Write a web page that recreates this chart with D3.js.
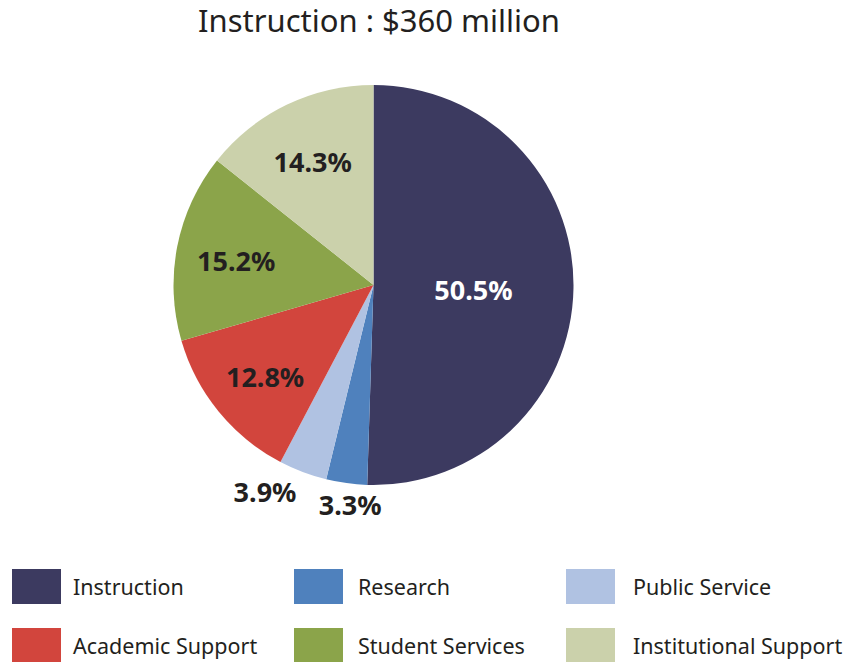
<!DOCTYPE html>
<html>
<head>
<meta charset="utf-8">
<script src="https://cdn.jsdelivr.net/npm/d3@7"></script>
<style>
  html, body { margin: 0; padding: 0; background: #ffffff; }
  svg { display: block; }
</style>
</head>
<body>
<svg id="chart" width="849" height="662"></svg>
<script>
// Spending breakdown for the Instruction budget
const chartTitle = "Instruction : $360 million";
const categories = ["Instruction", "Research", "Public Service", "Academic Support", "Student Services", "Institutional Support"];
const shares = [50.5, 3.3, 3.9, 12.8, 15.2, 14.3];
const colors = ["#3c3a60", "#4f81bd", "#b0c2e2", "#d2453d", "#8ba44a", "#cbd1ab"];
const legendColumns = [[0, 3], [1, 4], [2, 5]];

const W = 849, H = 662;
const cx = 373.5, cy = 285, R = 200;
const textColor = "#231f20";
const fontStack = "'Noto Sans', 'Open Sans', sans-serif";

const svg = d3.select("#chart");

// Title
svg.append("text")
  .attr("x", 379)
  .attr("y", 32)
  .attr("text-anchor", "middle")
  .attr("font-family", fontStack)
  .attr("font-size", 31)
  .attr("fill", textColor)
  .text(chartTitle);

const data = categories.map((c, i) => ({ name: c, value: shares[i], color: colors[i] }));

const pie = d3.pie().sort(null).value(d => d.value).startAngle(0).endAngle(2 * Math.PI);
const arcs = pie(data);
const arc = d3.arc().innerRadius(0).outerRadius(R);

const g = svg.append("g").attr("transform", `translate(${cx},${cy})`);

g.selectAll("path.slice")
  .data(arcs)
  .join("path")
  .attr("class", "slice")
  .attr("d", arc)
  .attr("fill", d => d.data.color);

// Label radius depends on slice size: big slice near the middle,
// thin slices outside the rim, the rest toward the rim.
function labelRadius(d) {
  if (d.data.value > 40) return R * 0.5;
  if (d.data.value < 5) return R * 1.09;
  return R * 0.7;
}

const fmt = v => v.toFixed(1) + "%";

g.selectAll("text.pct")
  .data(arcs)
  .join("text")
  .attr("class", "pct")
  .each(function(d) {
    const r = labelRadius(d);
    const a = d3.arc().innerRadius(r).outerRadius(r);
    const [x, y] = a.centroid(d);
    const mid = (d.startAngle + d.endAngle) / 2;
    const outside = d.data.value < 5;
    const anchor = outside && Math.sin(mid) < -0.3 ? "end" : "middle";
    d3.select(this)
      .attr("x", outside && anchor === "middle" ? x + 6 : x)
      .attr("y", y)
      .attr("dy", "0.5em")
      .attr("text-anchor", anchor);
  })
  .attr("font-family", fontStack)
  .attr("font-weight", "bold")
  .attr("font-size", 27)
  .attr("fill", d => d.data.value > 40 ? "#ffffff" : textColor)
  .text(d => fmt(d.data.value));

// Legend: three columns, two rows
const colX = d3.scaleOrdinal().domain([0, 1, 2]).range([12, 294, 566]);
const textX = d3.scaleOrdinal().domain([0, 1, 2]).range([73, 358, 633]);
const rowY = d3.scaleOrdinal().domain([0, 1]).range([569, 628]);

const legendItems = [];
legendColumns.forEach((col, ci) => col.forEach((idx, ri) => legendItems.push({ idx, ci, ri })));

const lg = svg.append("g").attr("class", "legend");
const item = lg.selectAll("g.item")
  .data(legendItems)
  .join("g")
  .attr("class", "item");

item.append("rect")
  .attr("x", d => colX(d.ci))
  .attr("y", d => rowY(d.ri))
  .attr("width", 49)
  .attr("height", 35)
  .attr("fill", d => colors[d.idx]);

item.append("text")
  .attr("x", d => textX(d.ci))
  .attr("y", d => rowY(d.ri) + 26)
  .attr("font-family", fontStack)
  .attr("font-size", 21.5)
  .attr("fill", textColor)
  .text(d => categories[d.idx]);
</script>
</body>
</html>
